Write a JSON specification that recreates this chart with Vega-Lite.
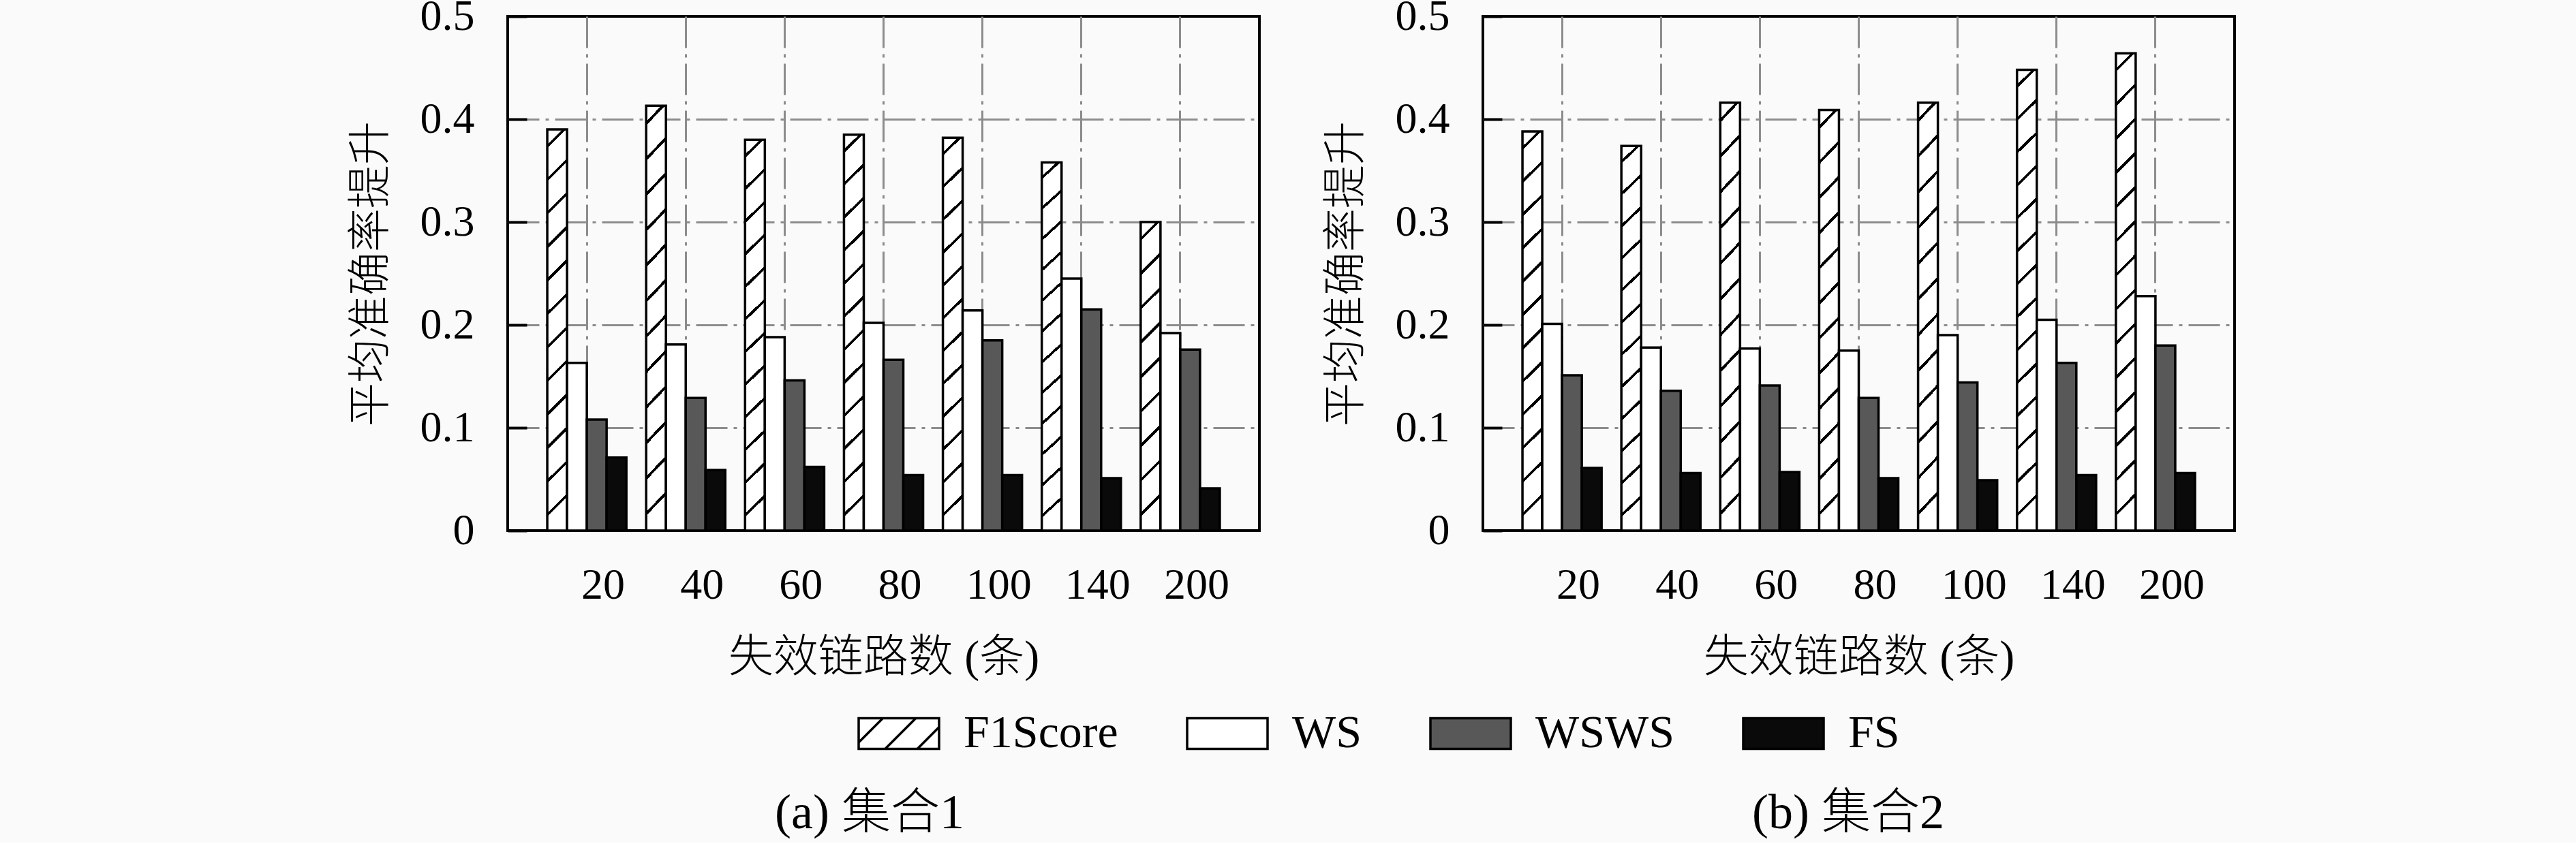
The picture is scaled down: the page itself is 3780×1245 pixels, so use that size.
{
  "$schema": "https://vega.github.io/schema/vega-lite/v6.json",
  "background": "#fafafa",
  "padding": {"left": 510, "top": -10, "right": 505, "bottom": 5},
  "data": {
    "values": [
      {"set": "1", "links": "20", "series": "F1Score", "value": 0.390},
      {"set": "1", "links": "20", "series": "WS", "value": 0.163},
      {"set": "1", "links": "20", "series": "WSWS", "value": 0.108},
      {"set": "1", "links": "20", "series": "FS", "value": 0.071},
      {"set": "1", "links": "40", "series": "F1Score", "value": 0.413},
      {"set": "1", "links": "40", "series": "WS", "value": 0.181},
      {"set": "1", "links": "40", "series": "WSWS", "value": 0.129},
      {"set": "1", "links": "40", "series": "FS", "value": 0.059},
      {"set": "1", "links": "60", "series": "F1Score", "value": 0.380},
      {"set": "1", "links": "60", "series": "WS", "value": 0.188},
      {"set": "1", "links": "60", "series": "WSWS", "value": 0.146},
      {"set": "1", "links": "60", "series": "FS", "value": 0.062},
      {"set": "1", "links": "80", "series": "F1Score", "value": 0.385},
      {"set": "1", "links": "80", "series": "WS", "value": 0.202},
      {"set": "1", "links": "80", "series": "WSWS", "value": 0.166},
      {"set": "1", "links": "80", "series": "FS", "value": 0.054},
      {"set": "1", "links": "100", "series": "F1Score", "value": 0.382},
      {"set": "1", "links": "100", "series": "WS", "value": 0.214},
      {"set": "1", "links": "100", "series": "WSWS", "value": 0.185},
      {"set": "1", "links": "100", "series": "FS", "value": 0.054},
      {"set": "1", "links": "140", "series": "F1Score", "value": 0.358},
      {"set": "1", "links": "140", "series": "WS", "value": 0.245},
      {"set": "1", "links": "140", "series": "WSWS", "value": 0.215},
      {"set": "1", "links": "140", "series": "FS", "value": 0.051},
      {"set": "1", "links": "200", "series": "F1Score", "value": 0.300},
      {"set": "1", "links": "200", "series": "WS", "value": 0.192},
      {"set": "1", "links": "200", "series": "WSWS", "value": 0.176},
      {"set": "1", "links": "200", "series": "FS", "value": 0.041},
      {"set": "2", "links": "20", "series": "F1Score", "value": 0.388},
      {"set": "2", "links": "20", "series": "WS", "value": 0.201},
      {"set": "2", "links": "20", "series": "WSWS", "value": 0.151},
      {"set": "2", "links": "20", "series": "FS", "value": 0.061},
      {"set": "2", "links": "40", "series": "F1Score", "value": 0.374},
      {"set": "2", "links": "40", "series": "WS", "value": 0.178},
      {"set": "2", "links": "40", "series": "WSWS", "value": 0.136},
      {"set": "2", "links": "40", "series": "FS", "value": 0.056},
      {"set": "2", "links": "60", "series": "F1Score", "value": 0.416},
      {"set": "2", "links": "60", "series": "WS", "value": 0.177},
      {"set": "2", "links": "60", "series": "WSWS", "value": 0.141},
      {"set": "2", "links": "60", "series": "FS", "value": 0.057},
      {"set": "2", "links": "80", "series": "F1Score", "value": 0.409},
      {"set": "2", "links": "80", "series": "WS", "value": 0.175},
      {"set": "2", "links": "80", "series": "WSWS", "value": 0.129},
      {"set": "2", "links": "80", "series": "FS", "value": 0.051},
      {"set": "2", "links": "100", "series": "F1Score", "value": 0.416},
      {"set": "2", "links": "100", "series": "WS", "value": 0.190},
      {"set": "2", "links": "100", "series": "WSWS", "value": 0.144},
      {"set": "2", "links": "100", "series": "FS", "value": 0.049},
      {"set": "2", "links": "140", "series": "F1Score", "value": 0.448},
      {"set": "2", "links": "140", "series": "WS", "value": 0.205},
      {"set": "2", "links": "140", "series": "WSWS", "value": 0.163},
      {"set": "2", "links": "140", "series": "FS", "value": 0.054},
      {"set": "2", "links": "200", "series": "F1Score", "value": 0.464},
      {"set": "2", "links": "200", "series": "WS", "value": 0.228},
      {"set": "2", "links": "200", "series": "WSWS", "value": 0.180},
      {"set": "2", "links": "200", "series": "FS", "value": 0.056}
    ]
  },
  "spacing": 91,
  "hconcat": [
    {
      "title": {"text": "(a) 集合1", "orient": "bottom", "frame": "bounds", "anchor": "middle", "offset": 161, "dx": 96},
      "width": 1103,
      "height": 755,
      "transform": [{"filter": "datum.set === '1'"}],
      "mark": {"type": "bar", "stroke": "black", "strokeWidth": 3.5},
      "encoding": {
        "x": {"field": "links", "type": "nominal", "sort": ["20", "40", "60", "80", "100", "140", "200"],
              "scale": {"paddingInner": 0.2, "paddingOuter": 0.4},
              "axis": {"title": "失效链路数 (条)"}},
        "xOffset": {"field": "series", "type": "nominal", "sort": ["F1Score", "WS", "WSWS", "FS"],
                    "scale": {"paddingInner": 0, "paddingOuter": 0}},
        "y": {"field": "value", "type": "quantitative", "scale": {"domain": [0, 0.5], "nice": false},
              "axis": {"title": "平均准确率提升", "values": [0, 0.1, 0.2, 0.3, 0.4, 0.5],
                       "gridOpacity": {"condition": {"test": "datum.value === 0 || datum.value === 0.5", "value": 0}, "value": 1}}},
        "color": {
          "field": "series", "type": "nominal", "sort": ["F1Score", "WS", "WSWS", "FS"],
          "scale": {"domain": ["F1Score", "WS", "WSWS", "FS"], "range": ["white", "white", "#585858", "#0a0a0a"]},
          "condition": [
            {"test": "datum.series === 'F1Score' && datum.value < 0.34", "value": {"gradient": "linear", "x1": 0, "y1": 0, "x2": 0.064, "y2": 1, "stops": [
              {"offset": 0, "color": "white"}, {"offset": 0.0494, "color": "white"}, {"offset": 0.0494, "color": "black"}, {"offset": 0.0617, "color": "black"},
              {"offset": 0.0617, "color": "white"}, {"offset": 0.1606, "color": "white"}, {"offset": 0.1606, "color": "black"}, {"offset": 0.1728, "color": "black"},
              {"offset": 0.1728, "color": "white"}, {"offset": 0.2717, "color": "white"}, {"offset": 0.2717, "color": "black"}, {"offset": 0.2839, "color": "black"},
              {"offset": 0.2839, "color": "white"}, {"offset": 0.3828, "color": "white"}, {"offset": 0.3828, "color": "black"}, {"offset": 0.395, "color": "black"},
              {"offset": 0.395, "color": "white"}, {"offset": 0.4939, "color": "white"}, {"offset": 0.4939, "color": "black"}, {"offset": 0.5061, "color": "black"},
              {"offset": 0.5061, "color": "white"}, {"offset": 0.605, "color": "white"}, {"offset": 0.605, "color": "black"}, {"offset": 0.6172, "color": "black"},
              {"offset": 0.6172, "color": "white"}, {"offset": 0.7161, "color": "white"}, {"offset": 0.7161, "color": "black"}, {"offset": 0.7283, "color": "black"},
              {"offset": 0.7283, "color": "white"}, {"offset": 0.8272, "color": "white"}, {"offset": 0.8272, "color": "black"}, {"offset": 0.8394, "color": "black"},
              {"offset": 0.8394, "color": "white"}, {"offset": 0.9383, "color": "white"}, {"offset": 0.9383, "color": "black"}, {"offset": 0.9506, "color": "black"},
              {"offset": 0.9506, "color": "white"}, {"offset": 1, "color": "white"}]}},
            {"test": "datum.series === 'F1Score' && datum.value >= 0.43", "value": {"gradient": "linear", "x1": 0, "y1": 0, "x2": 0.042, "y2": 1, "stops": [
              {"offset": 0, "color": "white"}, {"offset": 0.0318, "color": "white"}, {"offset": 0.0318, "color": "black"}, {"offset": 0.0396, "color": "black"},
              {"offset": 0.0396, "color": "white"}, {"offset": 0.1032, "color": "white"}, {"offset": 0.1032, "color": "black"}, {"offset": 0.1111, "color": "black"},
              {"offset": 0.1111, "color": "white"}, {"offset": 0.1746, "color": "white"}, {"offset": 0.1746, "color": "black"}, {"offset": 0.1825, "color": "black"},
              {"offset": 0.1825, "color": "white"}, {"offset": 0.2461, "color": "white"}, {"offset": 0.2461, "color": "black"}, {"offset": 0.2539, "color": "black"},
              {"offset": 0.2539, "color": "white"}, {"offset": 0.3175, "color": "white"}, {"offset": 0.3175, "color": "black"}, {"offset": 0.3254, "color": "black"},
              {"offset": 0.3254, "color": "white"}, {"offset": 0.3889, "color": "white"}, {"offset": 0.3889, "color": "black"}, {"offset": 0.3968, "color": "black"},
              {"offset": 0.3968, "color": "white"}, {"offset": 0.4604, "color": "white"}, {"offset": 0.4604, "color": "black"}, {"offset": 0.4682, "color": "black"},
              {"offset": 0.4682, "color": "white"}, {"offset": 0.5318, "color": "white"}, {"offset": 0.5318, "color": "black"}, {"offset": 0.5396, "color": "black"},
              {"offset": 0.5396, "color": "white"}, {"offset": 0.6032, "color": "white"}, {"offset": 0.6032, "color": "black"}, {"offset": 0.6111, "color": "black"},
              {"offset": 0.6111, "color": "white"}, {"offset": 0.6746, "color": "white"}, {"offset": 0.6746, "color": "black"}, {"offset": 0.6825, "color": "black"},
              {"offset": 0.6825, "color": "white"}, {"offset": 0.7461, "color": "white"}, {"offset": 0.7461, "color": "black"}, {"offset": 0.7539, "color": "black"},
              {"offset": 0.7539, "color": "white"}, {"offset": 0.8175, "color": "white"}, {"offset": 0.8175, "color": "black"}, {"offset": 0.8254, "color": "black"},
              {"offset": 0.8254, "color": "white"}, {"offset": 0.8889, "color": "white"}, {"offset": 0.8889, "color": "black"}, {"offset": 0.8968, "color": "black"},
              {"offset": 0.8968, "color": "white"}, {"offset": 0.9604, "color": "white"}, {"offset": 0.9604, "color": "black"}, {"offset": 0.9682, "color": "black"},
              {"offset": 0.9682, "color": "white"}, {"offset": 1, "color": "white"}]}},
            {"test": "datum.series === 'F1Score'", "value": {"gradient": "linear", "x1": 0, "y1": 0, "x2": 0.049, "y2": 1, "stops": [
              {"offset": 0, "color": "white"}, {"offset": 0.0371, "color": "white"}, {"offset": 0.0371, "color": "black"}, {"offset": 0.0463, "color": "black"},
              {"offset": 0.0463, "color": "white"}, {"offset": 0.1204, "color": "white"}, {"offset": 0.1204, "color": "black"}, {"offset": 0.1296, "color": "black"},
              {"offset": 0.1296, "color": "white"}, {"offset": 0.2037, "color": "white"}, {"offset": 0.2037, "color": "black"}, {"offset": 0.2129, "color": "black"},
              {"offset": 0.2129, "color": "white"}, {"offset": 0.2871, "color": "white"}, {"offset": 0.2871, "color": "black"}, {"offset": 0.2963, "color": "black"},
              {"offset": 0.2963, "color": "white"}, {"offset": 0.3704, "color": "white"}, {"offset": 0.3704, "color": "black"}, {"offset": 0.3796, "color": "black"},
              {"offset": 0.3796, "color": "white"}, {"offset": 0.4537, "color": "white"}, {"offset": 0.4537, "color": "black"}, {"offset": 0.4629, "color": "black"},
              {"offset": 0.4629, "color": "white"}, {"offset": 0.5371, "color": "white"}, {"offset": 0.5371, "color": "black"}, {"offset": 0.5463, "color": "black"},
              {"offset": 0.5463, "color": "white"}, {"offset": 0.6204, "color": "white"}, {"offset": 0.6204, "color": "black"}, {"offset": 0.6296, "color": "black"},
              {"offset": 0.6296, "color": "white"}, {"offset": 0.7037, "color": "white"}, {"offset": 0.7037, "color": "black"}, {"offset": 0.7129, "color": "black"},
              {"offset": 0.7129, "color": "white"}, {"offset": 0.7871, "color": "white"}, {"offset": 0.7871, "color": "black"}, {"offset": 0.7963, "color": "black"},
              {"offset": 0.7963, "color": "white"}, {"offset": 0.8704, "color": "white"}, {"offset": 0.8704, "color": "black"}, {"offset": 0.8796, "color": "black"},
              {"offset": 0.8796, "color": "white"}, {"offset": 0.9537, "color": "white"}, {"offset": 0.9537, "color": "black"}, {"offset": 0.9629, "color": "black"},
              {"offset": 0.9629, "color": "white"}, {"offset": 1, "color": "white"}]}}
          ],
          "legend": {
            "orient": "none", "legendX": 513, "legendY": 992, "direction": "horizontal", "columns": 4,
            "title": null, "padding": 0,
            "symbolType": "M-1,-0.381H1V0.381H-1Z", "symbolSize": 13924,
            "symbolStrokeColor": "black", "symbolStrokeWidth": 3.5, "symbolOpacity": 1,
            "labelFont": "Liberation Serif", "labelFontSize": 68, "labelColor": "black", "labelLimit": 0,
            "labelOffset": 34, "columnPadding": 94,
            "encode": {"symbols": {"update": {
              "stroke": {"value": "black"},
              "strokeWidth": {"value": 3.5},
              "shape": [
                {"test": "datum.value === 'F1Score' || datum.label === 'F1Score'", "value": "M-1,-0.381H1V0.381H-1Z M-1,0.22L-0.399,-0.381 M-0.341,0.381L0.421,-0.381 M0.459,0.381L1,-0.16"},
                {"value": "M-1,-0.381H1V0.381H-1Z"}
              ]
            }}}
          }
        }
      }
    },
    {
      "title": {"text": "(b) 集合2", "orient": "bottom", "frame": "bounds", "anchor": "middle", "offset": 161, "dx": 101},
      "width": 1103,
      "height": 755,
      "transform": [{"filter": "datum.set === '2'"}],
      "mark": {"type": "bar", "stroke": "black", "strokeWidth": 3.5},
      "encoding": {
        "x": {"field": "links", "type": "nominal", "sort": ["20", "40", "60", "80", "100", "140", "200"],
              "scale": {"paddingInner": 0.2, "paddingOuter": 0.4},
              "axis": {"title": "失效链路数 (条)"}},
        "xOffset": {"field": "series", "type": "nominal", "sort": ["F1Score", "WS", "WSWS", "FS"],
                    "scale": {"paddingInner": 0, "paddingOuter": 0}},
        "y": {"field": "value", "type": "quantitative", "scale": {"domain": [0, 0.5], "nice": false},
              "axis": {"title": "平均准确率提升", "values": [0, 0.1, 0.2, 0.3, 0.4, 0.5],
                       "gridOpacity": {"condition": {"test": "datum.value === 0 || datum.value === 0.5", "value": 0}, "value": 1}}},
        "color": {
          "field": "series", "type": "nominal", "sort": ["F1Score", "WS", "WSWS", "FS"],
          "scale": {"domain": ["F1Score", "WS", "WSWS", "FS"], "range": ["white", "white", "#585858", "#0a0a0a"]},
          "condition": [
            {"test": "datum.series === 'F1Score' && datum.value < 0.34", "value": {"gradient": "linear", "x1": 0, "y1": 0, "x2": 0.064, "y2": 1, "stops": [
              {"offset": 0, "color": "white"}, {"offset": 0.0494, "color": "white"}, {"offset": 0.0494, "color": "black"}, {"offset": 0.0617, "color": "black"},
              {"offset": 0.0617, "color": "white"}, {"offset": 0.1606, "color": "white"}, {"offset": 0.1606, "color": "black"}, {"offset": 0.1728, "color": "black"},
              {"offset": 0.1728, "color": "white"}, {"offset": 0.2717, "color": "white"}, {"offset": 0.2717, "color": "black"}, {"offset": 0.2839, "color": "black"},
              {"offset": 0.2839, "color": "white"}, {"offset": 0.3828, "color": "white"}, {"offset": 0.3828, "color": "black"}, {"offset": 0.395, "color": "black"},
              {"offset": 0.395, "color": "white"}, {"offset": 0.4939, "color": "white"}, {"offset": 0.4939, "color": "black"}, {"offset": 0.5061, "color": "black"},
              {"offset": 0.5061, "color": "white"}, {"offset": 0.605, "color": "white"}, {"offset": 0.605, "color": "black"}, {"offset": 0.6172, "color": "black"},
              {"offset": 0.6172, "color": "white"}, {"offset": 0.7161, "color": "white"}, {"offset": 0.7161, "color": "black"}, {"offset": 0.7283, "color": "black"},
              {"offset": 0.7283, "color": "white"}, {"offset": 0.8272, "color": "white"}, {"offset": 0.8272, "color": "black"}, {"offset": 0.8394, "color": "black"},
              {"offset": 0.8394, "color": "white"}, {"offset": 0.9383, "color": "white"}, {"offset": 0.9383, "color": "black"}, {"offset": 0.9506, "color": "black"},
              {"offset": 0.9506, "color": "white"}, {"offset": 1, "color": "white"}]}},
            {"test": "datum.series === 'F1Score' && datum.value >= 0.43", "value": {"gradient": "linear", "x1": 0, "y1": 0, "x2": 0.042, "y2": 1, "stops": [
              {"offset": 0, "color": "white"}, {"offset": 0.0318, "color": "white"}, {"offset": 0.0318, "color": "black"}, {"offset": 0.0396, "color": "black"},
              {"offset": 0.0396, "color": "white"}, {"offset": 0.1032, "color": "white"}, {"offset": 0.1032, "color": "black"}, {"offset": 0.1111, "color": "black"},
              {"offset": 0.1111, "color": "white"}, {"offset": 0.1746, "color": "white"}, {"offset": 0.1746, "color": "black"}, {"offset": 0.1825, "color": "black"},
              {"offset": 0.1825, "color": "white"}, {"offset": 0.2461, "color": "white"}, {"offset": 0.2461, "color": "black"}, {"offset": 0.2539, "color": "black"},
              {"offset": 0.2539, "color": "white"}, {"offset": 0.3175, "color": "white"}, {"offset": 0.3175, "color": "black"}, {"offset": 0.3254, "color": "black"},
              {"offset": 0.3254, "color": "white"}, {"offset": 0.3889, "color": "white"}, {"offset": 0.3889, "color": "black"}, {"offset": 0.3968, "color": "black"},
              {"offset": 0.3968, "color": "white"}, {"offset": 0.4604, "color": "white"}, {"offset": 0.4604, "color": "black"}, {"offset": 0.4682, "color": "black"},
              {"offset": 0.4682, "color": "white"}, {"offset": 0.5318, "color": "white"}, {"offset": 0.5318, "color": "black"}, {"offset": 0.5396, "color": "black"},
              {"offset": 0.5396, "color": "white"}, {"offset": 0.6032, "color": "white"}, {"offset": 0.6032, "color": "black"}, {"offset": 0.6111, "color": "black"},
              {"offset": 0.6111, "color": "white"}, {"offset": 0.6746, "color": "white"}, {"offset": 0.6746, "color": "black"}, {"offset": 0.6825, "color": "black"},
              {"offset": 0.6825, "color": "white"}, {"offset": 0.7461, "color": "white"}, {"offset": 0.7461, "color": "black"}, {"offset": 0.7539, "color": "black"},
              {"offset": 0.7539, "color": "white"}, {"offset": 0.8175, "color": "white"}, {"offset": 0.8175, "color": "black"}, {"offset": 0.8254, "color": "black"},
              {"offset": 0.8254, "color": "white"}, {"offset": 0.8889, "color": "white"}, {"offset": 0.8889, "color": "black"}, {"offset": 0.8968, "color": "black"},
              {"offset": 0.8968, "color": "white"}, {"offset": 0.9604, "color": "white"}, {"offset": 0.9604, "color": "black"}, {"offset": 0.9682, "color": "black"},
              {"offset": 0.9682, "color": "white"}, {"offset": 1, "color": "white"}]}},
            {"test": "datum.series === 'F1Score'", "value": {"gradient": "linear", "x1": 0, "y1": 0, "x2": 0.049, "y2": 1, "stops": [
              {"offset": 0, "color": "white"}, {"offset": 0.0371, "color": "white"}, {"offset": 0.0371, "color": "black"}, {"offset": 0.0463, "color": "black"},
              {"offset": 0.0463, "color": "white"}, {"offset": 0.1204, "color": "white"}, {"offset": 0.1204, "color": "black"}, {"offset": 0.1296, "color": "black"},
              {"offset": 0.1296, "color": "white"}, {"offset": 0.2037, "color": "white"}, {"offset": 0.2037, "color": "black"}, {"offset": 0.2129, "color": "black"},
              {"offset": 0.2129, "color": "white"}, {"offset": 0.2871, "color": "white"}, {"offset": 0.2871, "color": "black"}, {"offset": 0.2963, "color": "black"},
              {"offset": 0.2963, "color": "white"}, {"offset": 0.3704, "color": "white"}, {"offset": 0.3704, "color": "black"}, {"offset": 0.3796, "color": "black"},
              {"offset": 0.3796, "color": "white"}, {"offset": 0.4537, "color": "white"}, {"offset": 0.4537, "color": "black"}, {"offset": 0.4629, "color": "black"},
              {"offset": 0.4629, "color": "white"}, {"offset": 0.5371, "color": "white"}, {"offset": 0.5371, "color": "black"}, {"offset": 0.5463, "color": "black"},
              {"offset": 0.5463, "color": "white"}, {"offset": 0.6204, "color": "white"}, {"offset": 0.6204, "color": "black"}, {"offset": 0.6296, "color": "black"},
              {"offset": 0.6296, "color": "white"}, {"offset": 0.7037, "color": "white"}, {"offset": 0.7037, "color": "black"}, {"offset": 0.7129, "color": "black"},
              {"offset": 0.7129, "color": "white"}, {"offset": 0.7871, "color": "white"}, {"offset": 0.7871, "color": "black"}, {"offset": 0.7963, "color": "black"},
              {"offset": 0.7963, "color": "white"}, {"offset": 0.8704, "color": "white"}, {"offset": 0.8704, "color": "black"}, {"offset": 0.8796, "color": "black"},
              {"offset": 0.8796, "color": "white"}, {"offset": 0.9537, "color": "white"}, {"offset": 0.9537, "color": "black"}, {"offset": 0.9629, "color": "black"},
              {"offset": 0.9629, "color": "white"}, {"offset": 1, "color": "white"}]}}
          ]
        }
      }
    }
  ],
  "resolve": {"scale": {"color": "shared"}, "legend": {"color": "shared"}},
  "config": {
    "view": {"stroke": "black", "strokeWidth": 4, "fill": null},
    "axis": {
      "labelFont": "Liberation Serif", "labelFontSize": 64, "labelColor": "black",
      "titleFont": "Liberation Serif, Noto Sans CJK SC", "titleFontSize": 64, "titleFontWeight": 300, "titleColor": "black",
      "grid": true, "gridColor": "#8c8c8c", "gridWidth": 3, "gridDash": [46, 9, 5, 9],
      "domain": false
    },
    "axisX": {"ticks": false, "labelAngle": 0, "labelPadding": 48, "labelOffset": 24, "titleFontSize": 66, "titlePadding": 42, "bandPosition": 0.5},
    "axisY": {"tickSize": -28, "tickWidth": 4, "tickColor": "black", "labelPadding": 77, "titlePadding": 40, "format": ".1~f"},
    "title": {"font": "Liberation Serif, Noto Sans CJK SC", "fontSize": 72, "fontWeight": 300, "color": "black"}
  }
}
